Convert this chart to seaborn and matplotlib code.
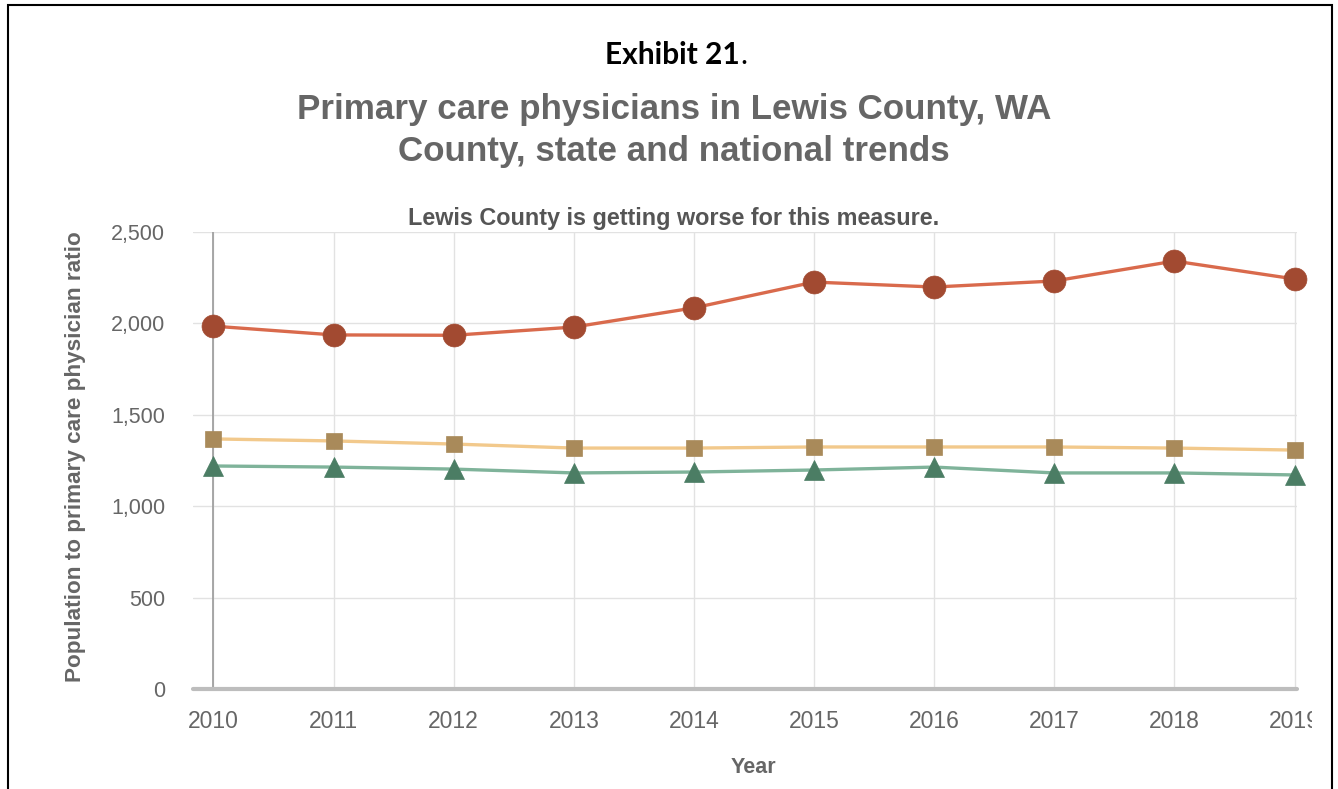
import pandas as pd
import seaborn as sns
import matplotlib.pyplot as plt
from matplotlib.patches import Rectangle
from matplotlib.transforms import Bbox, TransformedBbox

years = [2010, 2011, 2012, 2013, 2014, 2015, 2016, 2017, 2018, 2019]
lewis_county = [1985, 1937, 1935, 1980, 2085, 2226, 2199, 2232, 2341, 2243]
united_states = [1368, 1357, 1340, 1318, 1318, 1324, 1324, 1324, 1318, 1307]
washington = [1220, 1214, 1203, 1182, 1187, 1198, 1214, 1182, 1182, 1171]

y_ticks = [0, 500, 1000, 1500, 2000, 2500]
y_tick_labels = ["0", "500", "1,000", "1,500", "2,000", "2,500"]

df = pd.DataFrame({
    "Year": years * 3,
    "Ratio": lewis_county + united_states + washington,
    "Area": ["Lewis County"] * 10 + ["United States"] * 10 + ["Washington"] * 10,
})

# line colour, marker colour, marker, marker size
styles = {
    "Lewis County": ("#D96A4C", "#A24A31", "o", 16.5),
    "United States": ("#F2C98C", "#A98A5A", "s", 12),
    "Washington": ("#7FB39A", "#4B7D64", "^", 14),
}

sns.set_style("white")
plt.rcParams["font.family"] = ["Liberation Sans", "DejaVu Sans"]

fig = plt.figure(figsize=(13.38, 7.89), dpi=100)
ax = fig.add_axes([193 / 1338, 1 - 689 / 789, 1104 / 1338, 457 / 789])

for area in ["Washington", "United States", "Lewis County"]:
    lc, mc, mk, ms = styles[area]
    sns.lineplot(data=df[df["Area"] == area], x="Year", y="Ratio", ax=ax,
                 color=lc, linewidth=2.4, marker=mk, markersize=ms,
                 markerfacecolor=mc, markeredgecolor=mc, markeredgewidth=0.5,
                 clip_on=False, zorder=3)

ax.set_xlim(2009.83, 2019.02)
ax.set_ylim(0, 2500)
ax.set_xticks(years)
ax.set_xticklabels([str(y) for y in years])
ax.set_yticks(y_ticks)
ax.set_yticklabels(y_tick_labels)
ax.tick_params(axis="both", length=0, labelcolor="#666666")
ax.tick_params(axis="y", pad=20, labelsize=15.5)
ax.tick_params(axis="x", pad=15, labelsize=16.5)
ax.grid(True, color="#E2E2E2", linewidth=1)
for s in ax.spines.values():
    s.set_visible(False)
ax.axvline(2010, color="#9A9A9A", linewidth=1.2, zorder=1)
ax.axhline(0, color="#BDBDBD", linewidth=3, zorder=2, clip_on=False)

# the last year label is cut off in the original screenshot
clip = TransformedBbox(Bbox([[0, 0], [1312 / 1338, 1]]), fig.transFigure)
for lab in ax.get_xticklabels():
    lab.set_clip_on(True)
    lab.set_clip_box(clip)

ax.set_xlabel("Year", fontsize=15.5, fontweight="bold", color="#666666")
ax.xaxis.set_label_coords((753 - 193) / 1104, -(757 - 689) / 457)
ax.set_ylabel("Population to primary care physician ratio", fontsize=16.2,
              fontweight="bold", color="#666666")
ax.yaxis.set_label_coords(-(193 - 86) / 1104, (689 - 457) / 457)

cx = 674 / 1338
fig.text(cx, 1 - 219 / 789, "Lewis County is getting worse for this measure.",
         ha="center", va="center", fontsize=16.8, fontweight="bold", color="#555555")
fig.text(cx, 1 - 110 / 789, "Primary care physicians in Lewis County, WA",
         ha="center", va="center", fontsize=25.2, fontweight="bold", color="#666666")
fig.text(cx, 1 - 152 / 789, "County, state and national trends",
         ha="center", va="center", fontsize=25.2, fontweight="bold", color="#666666")

fig.text(740 / 1338, 1 - 55 / 789, "Exhibit 21", ha="right", va="center",
         fontsize=21.5, fontweight="bold", color="black", family=["Lato", "DejaVu Sans"])
fig.text(740 / 1338, 1 - 55 / 789, ".", ha="left", va="center",
         fontsize=21.5, color="black", family=["Lato", "DejaVu Sans"])

fig.patches.append(Rectangle((8 / 1338, -0.05), 1324 / 1338, 1.05 - 5 / 789,
                             transform=fig.transFigure, fill=False,
                             edgecolor="black", linewidth=1.5))

fig.savefig("out.png", dpi=100)
